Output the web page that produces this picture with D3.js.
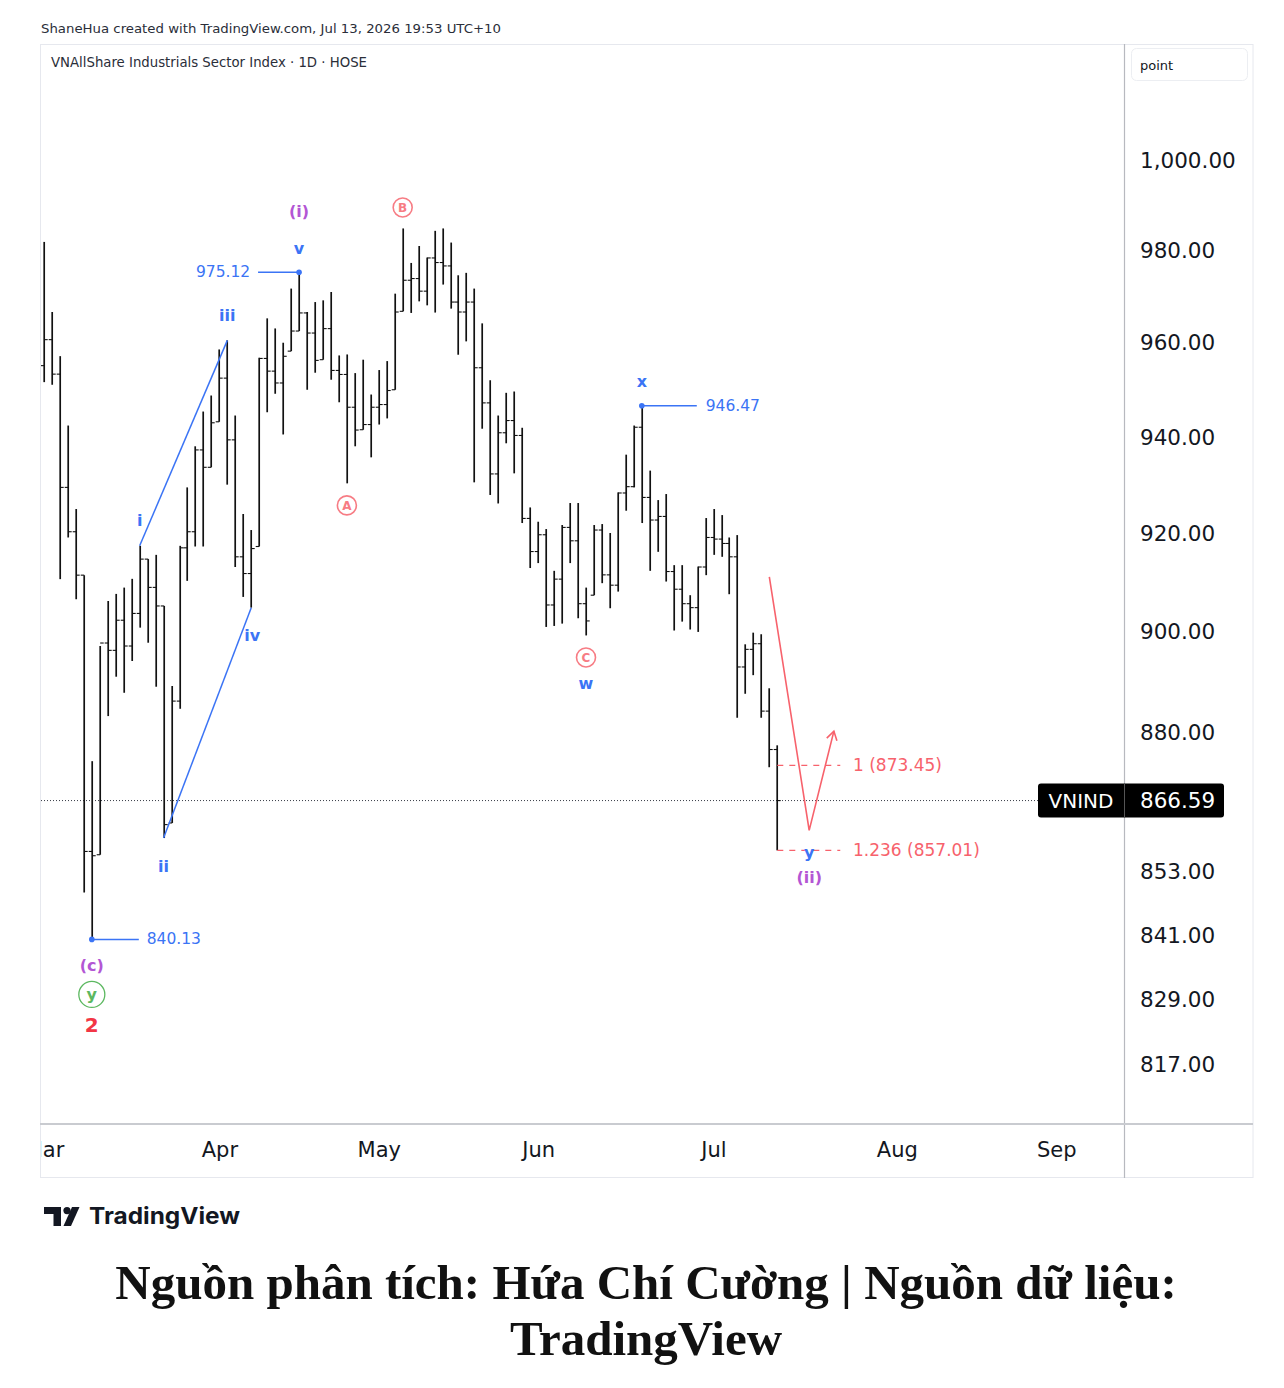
<!DOCTYPE html>
<html><head><meta charset="utf-8">
<script src="https://cdn.jsdelivr.net/npm/d3@7/dist/d3.min.js"></script>
<style>body{margin:0;background:#fff}svg{display:block}</style>
</head><body><svg id="c" width="1284" height="1388"></svg>
<script>
// ---- Data ----
const highs = [981.76,966.51,957.03,942.31,924.90,911.34,874.25,897.03,906.10,907.53,908.81,910.59,917.33,914.61,915.48,905.09,889.05,917.33,929.38,937.95,945.26,948.65,958.46,960.41,944.42,923.87,920.57,956.69,965.14,962.97,959.90,971.58,975.12,966.51,968.66,969.03,970.84,957.18,957.39,953.41,956.27,948.86,954.06,955.97,970.48,984.72,977.16,980.87,978.34,984.19,984.72,981.62,974.47,975.00,971.58,964.06,951.89,944.42,949.22,949.50,941.84,925.23,922.28,920.77,912.22,921.60,926.14,926.14,908.81,921.60,921.80,919.96,928.34,936.20,942.31,946.47,932.87,926.75,928.00,913.38,913.38,907.27,913.09,923.04,924.90,923.65,919.04,919.53,897.37,899.71,899.39,888.60,877.35];
const lows = [951.49,950.93,910.53,919.04,906.45,848.99,840.13,856.17,883.10,890.90,887.71,894.03,900.72,897.69,888.91,859.37,862.27,884.54,910.18,917.19,917.19,933.56,943.10,929.95,913.00,906.92,904.75,917.19,945.11,949.02,940.43,958.10,962.41,949.87,953.49,956.27,952.00,947.22,930.22,937.95,941.43,935.64,942.52,943.81,949.87,966.66,966.31,968.81,967.95,966.39,972.45,967.24,957.33,960.19,930.43,941.64,927.81,926.05,938.58,932.30,922.01,912.79,913.80,900.86,901.06,901.53,913.80,902.61,899.15,907.27,909.71,904.63,908.00,924.55,929.38,922.01,912.22,916.10,910.04,900.14,901.93,900.34,899.86,911.34,915.48,915.08,907.47,882.77,887.51,891.21,882.77,873.07,857.01];
const opens = [955.00,960.56,953.19,929.38,920.22,911.34,856.80,856.17,897.63,896.16,902.21,897.03,903.58,914.61,908.85,905.09,862.27,886.06,916.92,920.22,937.19,933.56,943.10,952.34,939.30,915.08,911.67,917.19,956.54,953.83,951.31,958.10,962.41,966.31,961.98,956.27,962.93,953.98,953.12,946.17,941.43,942.52,946.17,946.74,949.87,966.66,973.39,973.76,971.02,978.25,977.25,976.51,968.66,966.51,968.66,954.55,947.09,932.18,940.79,943.36,940.22,922.96,916.16,919.60,905.29,910.53,921.11,918.36,905.55,907.27,920.57,911.40,909.30,928.22,929.53,941.95,927.30,922.63,923.37,912.08,908.48,905.55,904.75,913.00,919.04,918.71,917.81,915.08,892.84,896.36,897.49,884.08,876.53];
const closes = [960.56,953.19,929.38,920.22,911.34,856.80,855.98,897.63,896.16,902.21,897.03,903.58,914.61,908.85,905.09,861.95,886.06,916.92,920.22,937.19,933.56,942.89,952.34,939.30,915.08,911.67,916.77,956.54,953.83,951.31,957.00,962.41,966.31,961.98,956.12,962.93,953.98,953.12,946.17,941.36,942.52,946.17,946.74,949.71,966.51,973.39,973.76,971.02,978.25,977.25,976.51,968.66,966.51,968.66,954.55,947.09,932.18,940.79,943.36,940.22,922.96,916.16,919.60,905.29,910.53,921.11,918.36,905.55,902.07,920.57,911.40,909.30,928.22,929.53,941.95,927.30,922.63,923.37,912.08,908.48,905.55,904.75,913.00,919.04,918.71,917.81,915.08,892.84,896.36,897.49,884.08,876.53,866.59];

const monthLabels = ["Mar","Apr","May","Jun","Jul","Aug","Sep"];
const monthBarIndex = [0,22,42,62,84,107,127];   // first trading day of month (bar index)
const priceTicks = [1000,980,960,940,920,900,880,853,841,829,817];

const lastPrice = 866.59;
const symbol = "VNIND";
const markPrices = [840.13, 975.12, 946.47];
const markBars = [6, 32, 75];
const fibRatios = ["1","1.236"];
const fibPrices = [873.45, 857.01];
const projBars = [91, 96, 99.1];
const projPrices = [911.0, 860.85, 880.14];

// ---- Setup ----
const svg = d3.select("#c");
const FONT = "DejaVu Sans, sans-serif";
const x = d3.scaleLinear().domain([0, 92]).range([44, 777.3]);
const y = d3.scaleLog().domain([817, 1000]).range([1064.4, 159.5]);

svg.append("rect").attr("width",1284).attr("height",1388).attr("fill","#fff");

// top attribution
svg.append("text").attr("x",41).attr("y",33).attr("font-family",FONT).attr("font-size",13)
  .attr("fill","#2a2e39").attr("textLength",460).attr("lengthAdjust","spacingAndGlyphs")
  .text("ShaneHua created with TradingView.com, Jul 13, 2026 19:53 UTC+10");

// frame
svg.append("rect").attr("x",40.5).attr("y",44.5).attr("width",1212.5).attr("height",1133)
  .attr("fill","none").attr("stroke","#e6e8ee");
const defs = svg.append("defs");
defs.append("clipPath").attr("id","plotClip").append("rect").attr("x",41).attr("y",45).attr("width",1083).attr("height",1078);
defs.append("clipPath").attr("id","timeClip").append("rect").attr("x",41).attr("y",1125).attr("width",1083).attr("height",52);

svg.append("text").attr("x",51).attr("y",67).attr("font-family",FONT).attr("font-size",13.5)
  .attr("fill","#2a2e39").attr("textLength",316).attr("lengthAdjust","spacingAndGlyphs")
  .text("VNAllShare Industrials Sector Index · 1D · HOSE");

const plotG = svg.append("g").attr("clip-path","url(#plotClip)");

// current price dotted line
plotG.append("line").attr("x1",41).attr("x2",1124).attr("y1",y(lastPrice)).attr("y2",y(lastPrice))
  .attr("stroke","#363a45").attr("stroke-width",1).attr("stroke-dasharray","1,2");

// OHLC bars
const barG = plotG.append("g").attr("stroke","#111").attr("stroke-width",1.7);
highs.forEach((h,i)=>{
  const cx = Math.round(x(i))+0.2;
  barG.append("line").attr("x1",cx).attr("x2",cx).attr("y1",y(h)).attr("y2",y(lows[i]));
  barG.append("line").attr("x1",cx-3.5).attr("x2",cx).attr("y1",y(opens[i])).attr("y2",y(opens[i])).attr("stroke-width",1.1);
  barG.append("line").attr("x1",cx).attr("x2",cx+3.5).attr("y1",y(closes[i])).attr("y2",y(closes[i])).attr("stroke-width",1.1);
});

// ---- Elliott wave annotations ----
const BLUE = "#3b74f5", PURPLE = "#b356d4", RED = "#f7626c", REDL = "#f77c84", GREEN = "#5cb860";
const ann = plotG.append("g");
function label(t, px, py, color, size, weight){
  ann.append("text").attr("x",px).attr("y",py).attr("text-anchor","middle").attr("dominant-baseline","central")
    .attr("font-family",FONT).attr("font-size",size).attr("font-weight",weight||"normal").attr("fill",color).text(t);
}
function circled(t, px, py, color, r, size, sw){
  ann.append("circle").attr("cx",px).attr("cy",py).attr("r",r).attr("fill","none").attr("stroke",color).attr("stroke-width",sw);
  label(t, px, py+0.5, color, size, "bold");
}

// wave channel lines (i->iii, ii->iv)
ann.append("line").attr("x1",x(12)).attr("y1",y(highs[12])).attr("x2",x(23)).attr("y2",y(highs[23]))
  .attr("stroke",BLUE).attr("stroke-width",1.5);
ann.append("line").attr("x1",x(15)).attr("y1",y(lows[15])).attr("x2",x(26)).attr("y2",y(lows[26]))
  .attr("stroke",BLUE).attr("stroke-width",1.5);

// price marks
const markCfg = [ {lineTo:+47, tx:+82}, {lineTo:-41, tx:-76}, {lineTo:+55, tx:+91} ];
markPrices.forEach((p,k)=>{
  const px = x(markBars[k]), py = y(p);
  ann.append("line").attr("x1",px).attr("x2",px+markCfg[k].lineTo).attr("y1",py).attr("y2",py).attr("stroke",BLUE).attr("stroke-width",1.5);
  ann.append("circle").attr("cx",px).attr("cy",py).attr("r",2.8).attr("fill",BLUE);
  label(p.toFixed(2), px+markCfg[k].tx, py, BLUE, 15.5);
});

label("i",   x(12), y(highs[12])-25, BLUE, 16, "bold");
label("iii", x(23), y(highs[23])-25, BLUE, 16, "bold");
label("ii",  x(15), y(lows[15])+28, BLUE, 16, "bold");
label("iv",  x(26)+1, y(lows[26])+28, BLUE, 16, "bold");
label("v",   x(32), y(markPrices[1])-24, BLUE, 16, "bold");
label("(i)", x(32), y(markPrices[1])-61, PURPLE, 16, "bold");
label("x",   x(75), y(markPrices[2])-24, BLUE, 16, "bold");
label("(c)", x(6), y(markPrices[0])+26, PURPLE, 16, "bold");
circled("y", x(6), y(markPrices[0])+55, GREEN, 13, 16, 1.3);
label("2",   x(6), y(markPrices[0])+86, "#f23645", 20, "bold");

circled("A", x(38), y(lows[38])+22, REDL, 9.5, 12, 1.6);
circled("B", x(45), y(highs[45])-21, REDL, 9.5, 12, 1.6);
circled("C", x(68), y(lows[68])+22, REDL, 9.5, 12, 1.6);
label("w",   x(68), y(lows[68])+48, BLUE, 16, "bold");

// fib target dashed lines
fibPrices.forEach((p,k)=>{
  ann.append("line").attr("x1",x(92)).attr("x2",x(99.9)).attr("y1",y(p)).attr("y2",y(p))
    .attr("stroke",RED).attr("stroke-width",1.3).attr("stroke-dasharray","6,6");
  ann.append("text").attr("x",853).attr("y",y(p)).attr("dominant-baseline","central")
    .attr("font-family",FONT).attr("font-size",17).attr("fill",RED)
    .text(fibRatios[k]+" ("+p.toFixed(2)+")");
});

// projection path with arrow
const line = d3.line().x((d,i)=>x(projBars[i])).y(d=>y(d));
ann.append("path").attr("d",line(projPrices)).attr("fill","none").attr("stroke",RED).attr("stroke-width",1.6);
{
  const tx = x(projBars[2]), ty = y(projPrices[2]);
  const ang = Math.atan2(y(projPrices[2])-y(projPrices[1]), x(projBars[2])-x(projBars[1]));
  const L = 10, spread = 0.55;
  const a1 = ang+Math.PI-spread, a2 = ang+Math.PI+spread;
  ann.append("path").attr("d",`M${tx+L*Math.cos(a1)},${ty+L*Math.sin(a1)}L${tx},${ty}L${tx+L*Math.cos(a2)},${ty+L*Math.sin(a2)}`)
    .attr("fill","none").attr("stroke",RED).attr("stroke-width",1.6);
}
label("y",    x(96), y(fibPrices[1])+2, BLUE, 16, "bold");
label("(ii)", x(96), y(fibPrices[1])+27, PURPLE, 16, "bold");

// ---- Price axis ----
svg.append("line").attr("x1",1124.5).attr("x2",1124.5).attr("y1",44).attr("y2",1178).attr("stroke","#b7b9bf").attr("stroke-width",1.2);
svg.append("line").attr("x1",40).attr("x2",1253).attr("y1",1124).attr("y2",1124).attr("stroke","#c9cbd0").attr("stroke-width",2);

svg.append("rect").attr("x",1131.5).attr("y",48.5).attr("width",116).attr("height",32).attr("rx",5)
  .attr("fill","#fff").attr("stroke","#eceef2");
svg.append("text").attr("x",1140).attr("y",65).attr("dominant-baseline","central").attr("font-family",FONT)
  .attr("font-size",13).attr("fill","#131722").text("point");

const yAxis = d3.axisRight(y).tickValues(priceTicks).tickSize(0).tickPadding(0)
  .tickFormat(d3.format(",.2f"));
const yg = svg.append("g").attr("transform","translate(1140,0)").call(yAxis);
yg.select(".domain").remove();
yg.selectAll("text").attr("font-family",FONT).attr("font-size",21.5).attr("fill","#131722").attr("x",0).attr("dy","0.35em");

// last price label
{
  const py = y(lastPrice);
  svg.append("rect").attr("x",1038).attr("y",py-17).attr("width",186).attr("height",34).attr("rx",3).attr("fill","#000");
  svg.append("line").attr("x1",1124.5).attr("x2",1124.5).attr("y1",py-17).attr("y2",py+17).attr("stroke","#555").attr("stroke-width",1);
  svg.append("text").attr("x",1081).attr("y",py).attr("text-anchor","middle").attr("dominant-baseline","central")
    .attr("font-family",FONT).attr("font-size",20).attr("fill","#fff").text(symbol);
  svg.append("text").attr("x",1140).attr("y",py).attr("dominant-baseline","central")
    .attr("font-family",FONT).attr("font-size",21.5).attr("fill","#fff").text(lastPrice.toFixed(2));
}

// ---- Time axis ----
const xAxis = d3.axisBottom(x).tickValues(monthBarIndex).tickSize(0).tickPadding(0)
  .tickFormat((d,i)=>monthLabels[i]);
const xg = svg.append("g").attr("clip-path","url(#timeClip)").append("g").attr("transform","translate(0,1150)").call(xAxis);
xg.select(".domain").remove();
xg.selectAll("text").attr("font-family",FONT).attr("font-size",21).attr("fill","#131722").attr("dy","0.35em").attr("y",0);

// ---- TradingView logo ----
const logo = svg.append("g").attr("fill","#131722");
logo.append("path").attr("d","M44,1207h17v19h-7.5v-12h-9.5z");
logo.append("circle").attr("cx",67).attr("cy",1210.6).attr("r",3.6);
logo.append("path").attr("d","M63.5,1226l8.5,-19h7.5l-8.5,19z");
svg.append("text").attr("x",89).attr("y",1224).attr("font-family","Inter, Noto Sans, sans-serif").attr("font-weight","bold")
  .attr("font-size",23).attr("fill","#131722").attr("textLength",151).attr("lengthAdjust","spacingAndGlyphs").text("TradingView");

// ---- Caption ----
const cap = svg.append("text").attr("text-anchor","middle").attr("font-family","Liberation Serif, Times New Roman, serif")
  .attr("font-weight","bold").attr("font-size",49).attr("fill","#111");
cap.append("tspan").attr("x",646).attr("y",1299).text("Nguồn phân tích: Hứa Chí Cường | Nguồn dữ liệu:");
cap.append("tspan").attr("x",646).attr("y",1355).text("TradingView");
</script>
</body></html>
